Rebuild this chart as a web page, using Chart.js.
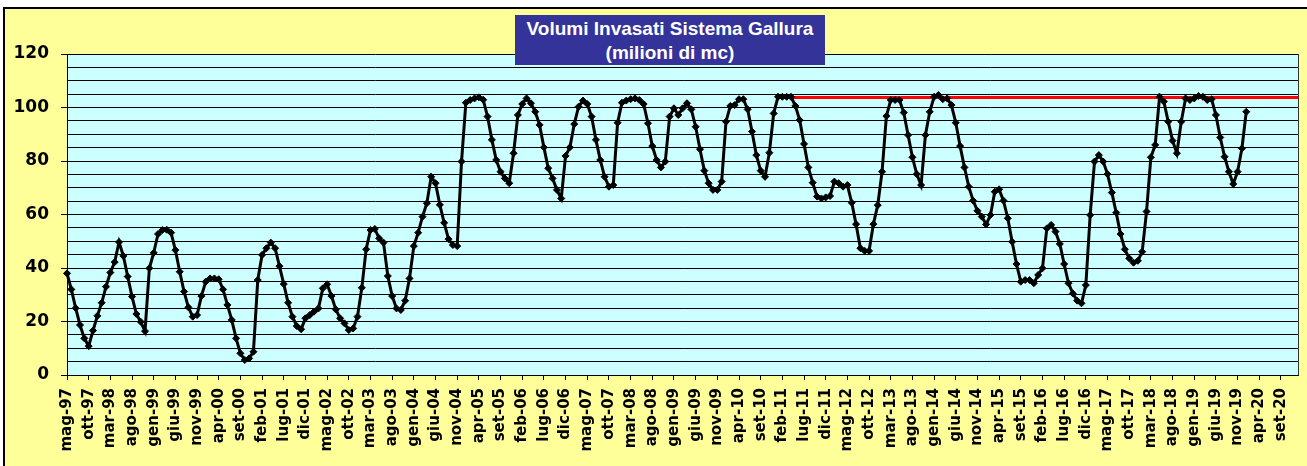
<!DOCTYPE html>
<html lang="it">
<head>
<meta charset="utf-8">
<title>Volumi Invasati Sistema Gallura</title>
<script src="https://cdn.jsdelivr.net/npm/chart.js@4/dist/chart.umd.min.js"></script>
<style>
    body { margin: 0; background: #fff; overflow: hidden; }
    #cornice {
        position: absolute; left: 3px; top: 7px; width: 1320px; height: 480px;
        background: #ffff99; border: 2px solid #000;
    }
    #grafico { position: absolute; left: 0; top: 0; }
    #titolo {
        position: absolute; left: 515px; top: 15px; width: 310px; height: 50px;
        background: #333399; color: #fff; text-align: center;
        font: bold 19px "Liberation Sans", Arial, sans-serif; line-height: 24px;
        padding-top: 2px; box-sizing: border-box;
    }
</style>
</head>
<body>
<div id="cornice"></div>
<canvas id="grafico" width="1307" height="466"></canvas>
<div id="titolo">Volumi Invasati Sistema Gallura<br>(milioni di mc)</div>
<script>
// mesi dell'asse (da mag-97 a gen-21)
const mesi = ['gen', 'feb', 'mar', 'apr', 'mag', 'giu', 'lug', 'ago', 'set', 'ott', 'nov', 'dic'];
const primoMese = 4;
const primoAnno = 1997;
const numeroMesi = 285;
const passoEtichette = 5;

// volumi mensili (milioni di mc), da mag-97
const volumi = [
    38.0, 32.0, 25.0, 18.7, 13.7, 10.8, 16.6, 22.1, 27.0, 33.0,
    38.3, 42.2, 49.7, 44.5, 36.8, 29.3, 22.8, 19.9, 16.4, 39.9,
    45.7, 52.7, 54.2, 54.3, 53.2, 46.7, 38.6, 31.2, 25.3, 21.8,
    22.4, 29.5, 34.9, 36.1, 36.1, 35.8, 32.0, 26.2, 20.6, 13.7,
    8.1, 5.6, 6.2, 8.7, 35.5, 44.9, 47.4,
    49.5, 47.4, 40.7, 34.0, 27.0, 21.8, 18.3, 17.1, 21.2, 22.4,
    23.7, 24.9, 32.4, 33.9, 29.5, 24.5, 21.2, 19.3, 16.8, 17.4,
    21.8, 32.6, 47.0, 54.2, 54.6, 51.1, 49.5, 37.0, 29.5, 24.9,
    24.3, 27.8, 36.1, 48.2, 53.2, 59.2, 64.2, 74.1, 71.7, 63.6,
    56.9, 50.8, 48.6, 48.2, 79.8, 101.8, 102.8,
    103.4, 103.8, 102.9, 96.6, 87.9, 80.4, 76.0, 73.5, 71.7, 82.9,
    97.2, 101.3, 103.4, 101.6, 98.4, 93.5, 85.1, 77.3, 73.5, 69.2,
    66.0, 81.9, 85.1, 93.8, 100.3, 102.6, 101.3, 96.6, 87.9, 80.4,
    74.1, 70.4, 71.0, 94.3, 101.8, 102.6, 103.1, 103.4, 102.8, 101.3,
    94.1, 85.6, 80.4, 77.6, 79.8, 96.6, 99.7,
    97.2, 99.7, 101.6, 99.3, 92.8, 84.4, 76.4, 71.7, 69.2, 69.2,
    72.3, 94.7, 100.6, 100.9, 103.1, 103.1, 99.3, 91.0, 82.2, 76.4,
    74.1, 83.1, 97.8, 104.0, 104.0, 104.0, 104.0, 100.6, 95.3, 86.4,
    77.6, 71.9, 66.7, 66.0, 66.4, 66.9, 72.3, 71.7, 70.4, 71.0,
    64.4, 56.4, 47.4, 46.4, 46.4, 56.4, 63.5,
    76.0, 96.8, 102.8, 102.8, 102.8, 98.1, 89.7, 81.4, 75.1, 71.0,
    89.7, 98.4, 104.0, 104.7, 103.1, 103.4, 100.9, 94.3, 85.6, 77.6,
    70.4, 65.2, 61.4, 59.2, 56.3, 59.8, 68.5, 69.4, 65.2, 58.6,
    49.8, 41.5, 34.9, 35.5, 35.5, 34.3, 37.4, 39.9, 54.8, 56.1,
    53.6, 49.0, 41.5, 34.3, 30.5, 27.8, 26.8,
    33.6, 59.8, 79.8, 82.2, 79.8, 75.1, 68.2, 60.7, 52.7, 47.0,
    43.6, 42.0, 42.7, 46.1, 61.1, 81.4, 86.0, 104.0, 102.2, 94.7,
    87.6, 82.9, 94.7, 103.4, 102.8, 103.4, 104.3, 104.0, 102.8, 103.1,
    97.2, 88.8, 81.6, 76.0, 71.4, 76.0, 84.7, 98.4
];

// linea rossa del volume massimo
const livelloMax = 103.7;
const inizioMax = 'gen-11';

const categorie = [];
for (let k = 0; k < numeroMesi; k++) {
    const m = (primoMese + k) % 12;
    const anno = primoAnno + Math.floor((primoMese + k) / 12);
    categorie.push(mesi[m] + '-' + String(anno % 100).padStart(2, '0'));
}
const lineaMax = [
    { x: inizioMax, y: livelloMax },
    { x: categorie[categorie.length - 1], y: livelloMax }
];

// sfondo e bordo dell'area del grafico
const sfondoArea = {
    id: 'sfondoArea',
    beforeDraw(chart) {
        const { ctx, chartArea: a } = chart;
        ctx.save();
        ctx.fillStyle = '#ccffff';
        ctx.fillRect(a.left, a.top, a.right - a.left, a.bottom - a.top);
        ctx.restore();
    },
    beforeDatasetsDraw(chart) {
        const { ctx, chartArea: a } = chart;
        ctx.save();
        ctx.strokeStyle = '#333';
        ctx.lineWidth = 1;
        ctx.beginPath();
        ctx.moveTo(Math.round(a.right) + 0.5, a.top);
        ctx.lineTo(Math.round(a.right) + 0.5, a.bottom);
        ctx.stroke();
        ctx.restore();
    }
};

const fontAssi = { family: '"DejaVu Sans", Verdana, sans-serif', weight: 'bold' };

new Chart(document.getElementById('grafico').getContext('2d'), {
    type: 'line',
    data: {
        labels: categorie,
        datasets: [
            {
                label: 'Volumi invasati',
                data: volumi,
                borderColor: '#000',
                backgroundColor: '#000',
                borderWidth: 3,
                pointStyle: 'rectRot',
                pointRadius: 3.5,
                pointBorderWidth: 1,
                pointHoverRadius: 3.5,
                tension: 0
            },
            {
                label: 'Volume massimo',
                data: lineaMax,
                borderColor: '#ff0000',
                borderWidth: 3,
                pointRadius: 0,
                tension: 0
            }
        ]
    },
    options: {
        responsive: false,
        animation: false,
        layout: { padding: { top: 54, right: 4, left: 0, bottom: 0 } },
        plugins: {
            legend: { display: false },
            tooltip: { enabled: false }
        },
        scales: {
            x: {
                type: 'category',
                offset: false,
                afterFit: s => { s.height = 91; },
                grid: { drawOnChartArea: false, tickLength: 5, color: '#000', tickColor: '#000' },
                border: { color: '#000', width: 1 },
                ticks: {
                    autoSkip: false,
                    minRotation: 90,
                    maxRotation: 90,
                    padding: 8,
                    color: '#000',
                    font: { ...fontAssi, size: 15 },
                    callback: function (val, i) {
                        return i % passoEtichette === 0 ? this.getLabelForValue(val) : null;
                    }
                }
            },
            y: {
                min: 0,
                max: 120,
                afterFit: s => { s.width = 67; },
                grid: {
                    color: '#000',
                    lineWidth: 1,
                    tickLength: 6,
                    tickColor: c => (c.tick && c.tick.value % 20 === 0 ? '#000' : 'rgba(0,0,0,0)')
                },
                border: { color: '#000', width: 1 },
                ticks: {
                    stepSize: 5,
                    autoSkip: false,
                    padding: 12,
                    color: '#000',
                    font: { ...fontAssi, size: 17 },
                    callback: v => (v % 20 === 0 ? v : '')
                }
            }
        }
    },
    plugins: [sfondoArea]
});
</script>
</body>
</html>
